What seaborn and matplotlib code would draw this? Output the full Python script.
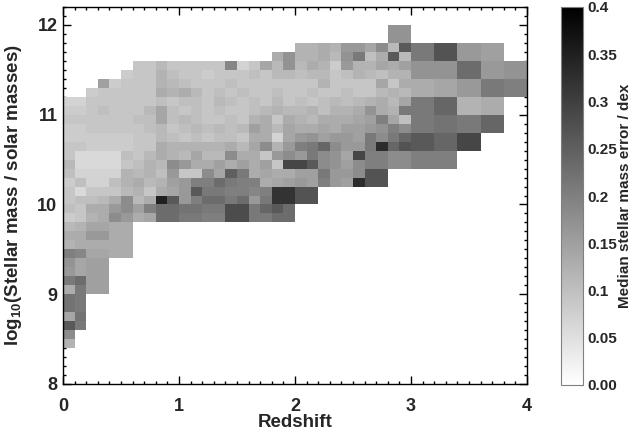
import matplotlib
matplotlib.use("Agg")
import matplotlib.pyplot as plt
import numpy as np
import pandas as pd
import seaborn as sns
from matplotlib.ticker import MultipleLocator

# bins: 0.1 in redshift (0..4), 0.1 dex in stellar mass (8.0..12.2)
z_bins = np.round(np.arange(0.0, 4.0, 0.1), 1)
mass_bins = np.round(np.arange(8.0, 12.2, 0.1), 1)

# one entry per filled mass row: lower edge of the row, first filled redshift bin,
# and median stellar mass error of each bin in units of 0.01 dex
row_mass = [11.9, 11.8, 11.7, 11.6, 11.5, 11.4, 11.3, 11.2, 11.1, 11.0,
            10.9, 10.8, 10.7, 10.6, 10.5, 10.4, 10.3, 10.2, 10.1, 10.0,
            9.9, 9.8, 9.7, 9.6, 9.5, 9.4, 9.3, 9.2, 9.1, 9.0,
            8.9, 8.8, 8.7, 8.6, 8.5, 8.4]
row_start = [28, 28, 20, 18, 6, 5, 3, 2, 0, 0,
             0, 0, 0, 0, 0, 0, 0, 0, 0, 0,
             0, 0, 0, 0, 0, 0, 0, 0, 0, 0,
             0, 0, 0, 0, 0, 0]
row_err = [
    [17, 17],
    [17, 17],
    [12, 12, 13, 12, 16, 16, 14, 18, 11, 26, 21, 21, 27, 27, 16, 16, 15, 15],
    [13, 17, 12, 12, 13, 11, 17, 21, 10, 13, 26, 11, 21, 21, 27, 27, 16, 16, 15, 15],
    [9, 9, 11, 9, 9, 9, 9, 9, 19, 7, 9, 14, 11, 17,
     11, 13, 12, 8, 16, 12, 12, 14, 13, 15, 17, 17, 17, 17, 23, 23, 16, 16, 17, 17],
    [8, 9, 9, 12, 10, 9, 9, 8, 9, 9, 9, 10, 9, 11, 11,
     10, 11, 11, 9, 10, 12, 11, 10, 12, 12, 17, 17, 17, 17, 23, 23, 16, 16, 17, 17],
    [15, 8, 9, 9, 9, 12, 11, 10, 9, 9, 9, 10, 9, 9, 9, 9, 9,
     9, 9, 12, 9, 9, 9, 9, 14, 9, 13, 13, 13, 14, 14, 16, 16, 21, 21, 20, 20],
    [8, 9, 9, 9, 9, 9, 13, 12, 13, 11, 9, 10, 9, 10, 9, 9, 10, 9,
     9, 10, 9, 9, 10, 9, 9, 11, 12, 11, 13, 13, 14, 14, 16, 16, 21, 21, 20, 20],
    [7, 7, 9, 9, 9, 9, 9, 9, 10, 9, 10, 10, 9, 11, 10, 9, 10, 9, 11, 9,
     10, 9, 10, 11, 10, 11, 12, 13, 11, 14, 21, 21, 24, 24, 12, 12, 13, 13],
    [8, 8, 9, 10, 9, 9, 9, 11, 14, 10, 9, 10, 9, 10, 9, 9, 10, 11, 12, 11,
     11, 12, 10, 12, 12, 13, 17, 13, 12, 21, 21, 21, 24, 24, 12, 12, 13, 13],
    [9, 9, 9, 9, 9, 9, 10, 10, 14, 10, 11, 10, 9, 9, 10, 9, 12, 13, 9, 13,
     12, 11, 13, 13, 13, 14, 15, 20, 14, 10, 21, 21, 22, 22, 21, 21, 24, 24],
    [8, 8, 9, 9, 9, 9, 9, 10, 11, 9, 10, 11, 10, 11, 10, 11, 15, 13, 11, 14,
     13, 13, 14, 13, 15, 15, 16, 17, 20, 18, 21, 21, 22, 22, 21, 21, 24, 24],
    [8, 8, 8, 8, 8, 8, 9, 9, 11, 10, 9, 10, 9, 10, 10, 9, 13, 13, 7, 14,
     16, 17, 15, 16, 16, 15, 21, 18, 21, 24, 26, 26, 24, 24, 29, 29],
    [9, 9, 8, 8, 8, 8, 9, 9, 13, 12, 12, 12, 12, 12, 13, 11, 14, 18, 12, 16,
     20, 21, 24, 18, 16, 16, 21, 33, 24, 27, 26, 26, 24, 24, 29, 29],
    [9, 6, 6, 6, 6, 10, 9, 11, 13, 12, 11, 14, 11, 11, 18, 13, 13, 9, 16, 18,
     16, 21, 18, 17, 14, 29, 20, 20, 18, 18, 20, 20, 20, 20],
    [11, 6, 6, 6, 6, 9, 10, 12, 11, 18, 16, 13, 13, 15, 13, 15, 13, 15, 9, 29,
     29, 26, 18, 17, 15, 18, 20, 20, 18, 18, 20, 20, 20, 20],
    [10, 7, 7, 7, 7, 12, 11, 12, 10, 16, 9, 9, 18, 14, 25, 21, 13, 14, 13, 13,
     15, 15, 21, 16, 16, 18, 27, 27],
    [8, 10, 7, 7, 10, 12, 13, 11, 12, 15, 16, 20, 20, 23, 21, 20, 20, 13, 14, 15,
     16, 15, 20, 16, 15, 33, 27, 27],
    [9, 6, 9, 9, 9, 11, 12, 9, 13, 14, 16, 26, 21, 21, 20, 20, 19, 20, 32, 32, 27, 27],
    [9, 10, 10, 11, 13, 18, 11, 13, 35, 26, 16, 20, 23, 23, 21, 23, 16, 21, 32, 32, 27, 27],
    [10, 9, 13, 13, 16, 18, 15, 20, 23, 23, 22, 22, 21, 21, 28, 28, 21, 24, 26, 23],
    [8, 9, 12, 13, 18, 16, 13, 14, 23, 23, 21, 21, 20, 20, 28, 28, 21, 21, 23, 23],
    [11, 12, 14, 14, 13, 13],
    [13, 13, 16, 16, 13, 13],
    [12, 13, 13, 13, 13, 13],
    [20, 19, 14, 14, 13, 13],
    [17, 14, 15, 15],
    [16, 14, 15, 15],
    [21, 23, 15, 15],
    [13, 21, 15, 15],
    [22, 21],
    [22, 21],
    [14, 22],
    [26, 21],
    [18],
    [12],
]

x_ticks = [0, 1, 2, 3, 4]
y_ticks = [8, 9, 10, 11, 12]
cbar_ticks = [0.0, 0.05, 0.1, 0.15, 0.2, 0.25, 0.3, 0.35, 0.4]
cbar_labels = ["0.00", "0.05", "0.1", "0.15", "0.2", "0.25", "0.3", "0.35", "0.4"]

grid = np.full((len(mass_bins), len(z_bins)), np.nan)
for m, start, vals in zip(row_mass, row_start, row_err):
    i = int(round((m - mass_bins[0]) * 10))
    grid[i, start:start + len(vals)] = np.array(vals) / 100.0
df = pd.DataFrame(grid, index=mass_bins, columns=z_bins)

sns.set_theme(style="white")
plt.rcParams["font.family"] = ["Liberation Sans", "DejaVu Sans"]
plt.rcParams["font.weight"] = "bold"
plt.rcParams["mathtext.fontset"] = "custom"
plt.rcParams["mathtext.rm"] = "Liberation Sans:bold"
plt.rcParams["mathtext.bf"] = "Liberation Sans:bold"
plt.rcParams["mathtext.it"] = "Liberation Sans:bold"

fig = plt.figure(figsize=(6.36, 4.37), dpi=100)
ax = fig.add_axes([63 / 636, 1 - 384 / 437, 464 / 636, 377 / 437])
cax = fig.add_axes([561 / 636, 1 - 385 / 437, 22 / 636, 378 / 437])

sns.heatmap(df, ax=ax, cbar_ax=cax, cmap="gray_r", vmin=0, vmax=0.4,
            xticklabels=False, yticklabels=False, linewidths=0,
            cbar_kws={"ticks": cbar_ticks})

nz, nm = len(z_bins), len(mass_bins)
ax.set_xlim(0, nz)
ax.set_ylim(0, nm)
ax.set_xticks([t * 10 for t in x_ticks])
ax.set_xticklabels([str(t) for t in x_ticks])
ax.set_yticks([(t - 8) * 10 for t in y_ticks])
ax.set_yticklabels([str(t) for t in y_ticks])
ax.xaxis.set_minor_locator(MultipleLocator(1))
ax.yaxis.set_minor_locator(MultipleLocator(1))
ax.tick_params(which="both", direction="in", top=True, right=True,
               bottom=True, left=True, color="black", width=1)
ax.tick_params(which="major", length=5.5, labelsize=13)
ax.tick_params(which="minor", length=2.5)
ax.tick_params(axis="x", which="major", pad=10)
ax.tick_params(axis="y", which="major", pad=4)
for tl in ax.get_xticklabels() + ax.get_yticklabels():
    tl.set_fontweight("bold")
for spine in ax.spines.values():
    spine.set_visible(True)
    spine.set_color("black")
    spine.set_linewidth(1)

ax.set_xlabel("Redshift", fontsize=13.5, fontweight="bold")
ax.set_ylabel(r"log$_{\mathbf{10}}$(Stellar mass / solar masses)", fontsize=13.5,
              fontweight="bold")
ax.xaxis.set_label_coords(0.5, -0.08)
ax.yaxis.set_label_coords(-0.085, 0.5)

cbar = ax.collections[0].colorbar
cbar.outline.set_visible(True)
cbar.outline.set_linewidth(0.8)
cbar.outline.set_edgecolor("0.5")
cax.set_yticks(cbar_ticks)
cax.set_yticklabels(cbar_labels)
cax.yaxis.set_minor_locator(MultipleLocator(0.025))
cax.tick_params(which="both", direction="in", color="0.4", width=0.8)
cax.tick_params(which="major", right=True, left=False, length=3,
                labelsize=11, pad=3)
cax.tick_params(which="minor", left=True, right=False, length=3)
for tl in cax.get_yticklabels():
    tl.set_fontweight("bold")
cax.set_ylabel("Median stellar mass error / dex", fontsize=11,
               fontweight="bold", rotation=90, labelpad=1)

fig.savefig("out.png", dpi=100)
